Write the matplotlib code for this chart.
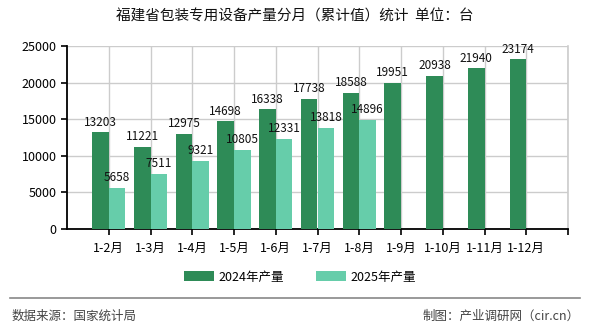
import numpy as np
import matplotlib.pyplot as plt
from matplotlib.lines import Line2D

plt.rcParams['font.family'] = ['Noto Sans CJK SC', 'DejaVu Sans']

months = ["1-2月", "1-3月", "1-4月", "1-5月", "1-6月", "1-7月", "1-8月",
          "1-9月", "1-10月", "1-11月", "1-12月"]
prod_2024 = [13203, 11221, 12975, 14698, 16338, 17738, 18588,
             19951, 20938, 21940, 23174]
prod_2025 = [5658, 7511, 9321, 10805, 12331, 13818, 14896]

c24 = "#2e8b57"
c25 = "#66cdaa"

fig = plt.figure(figsize=(5.9, 3.3), dpi=100)
ax = fig.add_axes([67 / 590, 1 - 229 / 330, 501 / 590, 183 / 330])

x = np.arange(1, len(months) + 1)
w = 0.4
ax.bar(x[:len(prod_2024)] - w / 2, prod_2024, w, color=c24, zorder=3,
       label="2024年产量")
ax.bar(x[:len(prod_2025)] + w / 2, prod_2025, w, color=c25, zorder=3,
       label="2025年产量")

for xi, v in zip(x, prod_2024):
    ax.text(xi - w / 2, v + 500, str(v), ha="center", va="bottom",
            fontsize=8.5, color="#111111", zorder=4)
for xi, v in zip(x, prod_2025):
    ax.text(xi + w / 2, v + 500, str(v), ha="center", va="bottom",
            fontsize=8.5, color="#111111", zorder=4)

ax.set_xlim(0, 12)
ax.set_ylim(0, 25000)
ax.set_yticks(range(0, 25001, 5000))
ax.set_xticks(list(x) + [12])
ax.set_xticklabels(months + [""])
ax.tick_params(axis="both", labelsize=9, length=4, width=1.2, colors="#000000")
ax.tick_params(axis="x", pad=5)
ax.grid(True, color="#cccccc", linewidth=1, zorder=0)
ax.axvline(12, color="#cccccc", linewidth=1.2, zorder=0, clip_on=False)
ax.spines["top"].set_visible(False)
ax.spines["right"].set_visible(False)
ax.spines["left"].set_linewidth(1.3)
ax.spines["bottom"].set_linewidth(1.3)

fig.text(0.5, 1 - 17 / 330, "福建省包装专用设备产量分月（累计值）统计  单位：台",
         ha="center", va="center", fontsize=10.5, color="#111111")

ax.legend(loc="center", bbox_to_anchor=(300 / 590, 1 - 277 / 330),
          bbox_transform=fig.transFigure, ncol=2, frameon=False,
          fontsize=9, handlelength=2.4, handleheight=0.8,
          columnspacing=2.5, handletextpad=0.4)

fig.add_artist(Line2D([10 / 590, 580 / 590], [1 - 298 / 330, 1 - 298 / 330],
                      transform=fig.transFigure, color="#888888", linewidth=1.2))
fig.text(12 / 590, 1 - 316 / 330, "数据来源：国家统计局", ha="left",
         va="center", fontsize=9, color="#444444")
fig.text(580 / 590, 1 - 316 / 330, "制图：产业调研网（cir.cn）", ha="right",
         va="center", fontsize=9, color="#444444")

fig.savefig("out.png", dpi=100)
